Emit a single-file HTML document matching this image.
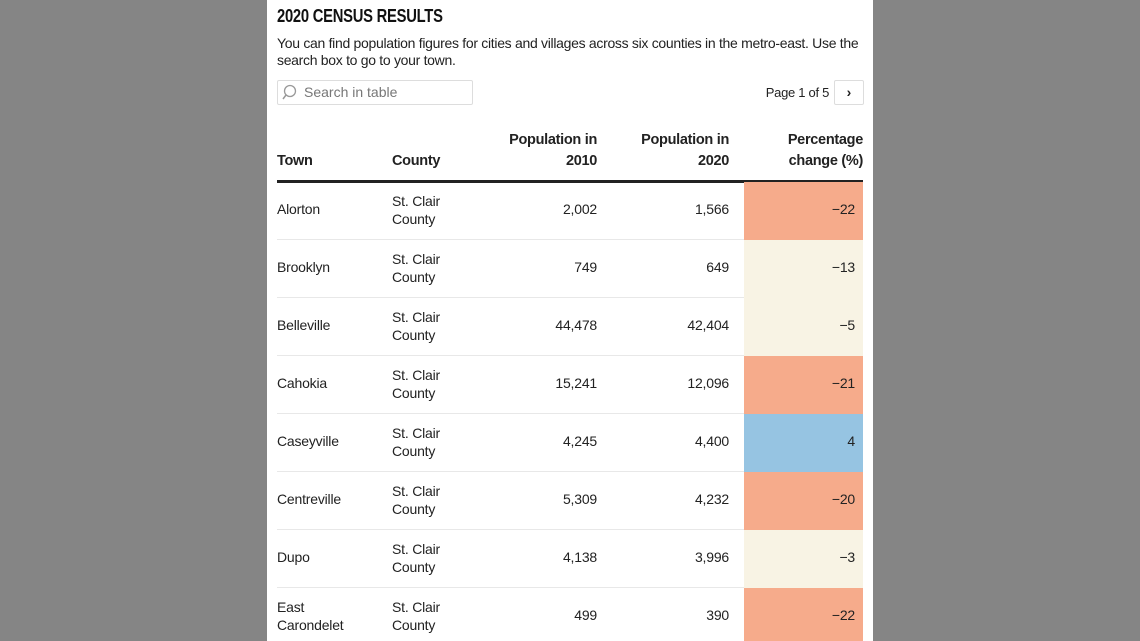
<!DOCTYPE html>
<html style="height:641px;overflow:hidden"><head><style>
body{margin:0;width:1140px;height:641px;background:#858585;overflow:hidden;font-family:"Liberation Sans",sans-serif;color:#222;position:relative}
.p{position:absolute;left:267px;top:0;width:606px;height:641px;background:#fff;overflow:hidden}
.t{position:absolute;left:10px;top:6px;font-weight:bold;font-size:18px;transform:scaleX(.82);transform-origin:left;letter-spacing:-.3px;color:#111}
.d{position:absolute;left:10px;top:35px;width:590px;font-size:14px;line-height:17px;letter-spacing:-.3px;color:#222}
.s{position:absolute;left:10px;top:80px;width:194px;height:23px;border:1px solid #ddd;border-radius:2px;font-size:14px;color:#777}
.s span{position:absolute;left:26px;top:3px}
.pg{position:absolute;right:44px;top:85px;font-size:13px;letter-spacing:-.3px}
.nb{position:absolute;left:567px;top:80px;width:28px;height:23px;border:1px solid #ddd;border-radius:2px;text-align:center;font-size:14px;line-height:22px;font-weight:bold}
.h{position:absolute;font-weight:bold;font-size:14.5px;line-height:21px;letter-spacing:-.3px;color:#222}
.hl{position:absolute;left:10px;top:180px;width:586px;height:3px;background:#222}
.r{position:absolute;left:10px;width:586px;height:57px;border-bottom:1px solid #e8e8e8;font-size:14px;letter-spacing:-.2px}
.r div{position:absolute}
.c{left:467px;top:0;width:119px;height:58px}
</style></head><body>
<div class="p">
<div class="t">2020 CENSUS RESULTS</div>
<div class="d">You can find population figures for cities and villages across six counties in the metro-east. Use the search box to go to your town.</div>
<div class="s"><svg width="18" height="18" style="position:absolute;left:4px;top:3px"><circle cx="8" cy="7" r="5.5" fill="none" stroke="#999" stroke-width="1.3"/><line x1="4" y1="11" x2="1" y2="15" stroke="#999" stroke-width="1.5"/></svg><span>Search in table</span></div>
<div class="pg">Page 1 of 5</div>
<div class="nb">›</div>
<div class="h" style="left:10px;top:151px">Town</div>
<div class="h" style="left:125px;top:151px">County</div>
<div class="h" style="right:276px;top:130px;text-align:right">Population in<br>2010</div>
<div class="h" style="right:144px;top:130px;text-align:right">Population in<br>2020</div>
<div class="h" style="right:10px;top:130px;text-align:right">Percentage<br>change (%)</div>
<div class="hl"></div>
<div class="r" style="top:182px"><div class="c" style="background:#f6ab8b"></div><div style="left:0;top:19px">Alorton</div><div style="left:115px;top:10px;line-height:18px">St. Clair<br>County</div><div style="right:266px;top:19px">2,002</div><div style="right:134px;top:19px">1,566</div><div style="right:8px;top:19px">−22</div></div>
<div class="r" style="top:240px"><div class="c" style="background:#f8f3e4"></div><div style="left:0;top:19px">Brooklyn</div><div style="left:115px;top:10px;line-height:18px">St. Clair<br>County</div><div style="right:266px;top:19px">749</div><div style="right:134px;top:19px">649</div><div style="right:8px;top:19px">−13</div></div>
<div class="r" style="top:298px"><div class="c" style="background:#f8f3e4"></div><div style="left:0;top:19px">Belleville</div><div style="left:115px;top:10px;line-height:18px">St. Clair<br>County</div><div style="right:266px;top:19px">44,478</div><div style="right:134px;top:19px">42,404</div><div style="right:8px;top:19px">−5</div></div>
<div class="r" style="top:356px"><div class="c" style="background:#f6ab8b"></div><div style="left:0;top:19px">Cahokia</div><div style="left:115px;top:10px;line-height:18px">St. Clair<br>County</div><div style="right:266px;top:19px">15,241</div><div style="right:134px;top:19px">12,096</div><div style="right:8px;top:19px">−21</div></div>
<div class="r" style="top:414px"><div class="c" style="background:#96c4e2"></div><div style="left:0;top:19px">Caseyville</div><div style="left:115px;top:10px;line-height:18px">St. Clair<br>County</div><div style="right:266px;top:19px">4,245</div><div style="right:134px;top:19px">4,400</div><div style="right:8px;top:19px">4</div></div>
<div class="r" style="top:472px"><div class="c" style="background:#f6ab8b"></div><div style="left:0;top:19px">Centreville</div><div style="left:115px;top:10px;line-height:18px">St. Clair<br>County</div><div style="right:266px;top:19px">5,309</div><div style="right:134px;top:19px">4,232</div><div style="right:8px;top:19px">−20</div></div>
<div class="r" style="top:530px"><div class="c" style="background:#f8f3e4"></div><div style="left:0;top:19px">Dupo</div><div style="left:115px;top:10px;line-height:18px">St. Clair<br>County</div><div style="right:266px;top:19px">4,138</div><div style="right:134px;top:19px">3,996</div><div style="right:8px;top:19px">−3</div></div>
<div class="r" style="top:588px"><div class="c" style="background:#f6ab8b"></div><div style="left:0;top:10px;line-height:18px">East<br>Carondelet</div><div style="left:115px;top:10px;line-height:18px">St. Clair<br>County</div><div style="right:266px;top:19px">499</div><div style="right:134px;top:19px">390</div><div style="right:8px;top:19px">−22</div></div>
</div>
</body></html>
